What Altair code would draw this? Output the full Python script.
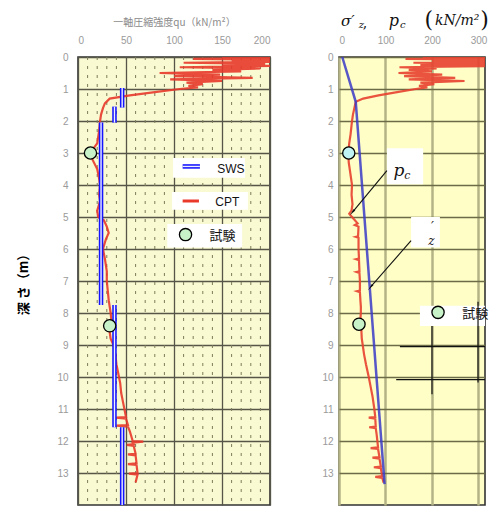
import altair as alt
import pandas as pd

# ---------------- data ----------------
# Left panel: CPT-derived unconfined compression strength qu (kN/m2) vs depth (m)
cpt_depth = [0.00, 0.03, 0.06, 0.09, 0.12, 0.15, 0.18, 0.21, 0.25, 0.28, 0.32, 0.36, 0.40,
             0.45, 0.50, 0.55, 0.60, 0.65, 0.70, 0.75, 0.80, 0.85, 0.90, 0.95, 1.00, 1.10,
             1.20, 1.30, 1.45, 1.60, 1.80, 2.00, 2.30, 2.70, 2.90, 3.00, 3.20, 3.50, 3.80,
             4.00, 4.30, 4.50, 4.80, 5.00, 5.10, 5.30, 5.50, 5.70, 6.00, 6.30, 6.70, 7.00,
             7.30, 7.60, 7.80, 8.00, 8.30, 8.60, 8.80, 9.00, 9.30, 9.60, 9.90, 10.20, 10.50,
             10.80, 11.10, 11.25, 11.27, 11.30, 11.50, 11.52, 11.55, 11.70, 12.00, 12.02,
             12.05, 12.10, 12.12, 12.15, 12.40, 12.42, 12.45, 12.70, 12.72, 12.75, 13.00,
             13.02, 13.05, 13.30]
cpt_qu = [150, 200, 120, 200, 160, 200, 110, 195, 150, 200, 106, 190, 140,
          170, 85, 148, 100, 182, 96, 150, 113, 130, 115, 125, 106, 80,
          54, 33, 28, 26, 24, 23, 22, 20, 15, 13, 15, 20, 22,
          23, 22, 23, 20, 21, 27, 30, 32, 29, 26, 28, 30, 30,
          31, 32, 33, 34, 35, 33, 34, 37, 39, 40, 42, 44, 45,
          47, 49, 50, 40, 50, 52, 40, 52, 54, 57, 68,
          57, 58, 51, 58, 60, 52, 60, 61, 52, 61, 62,
          53, 62, 60]

# SWS segments (double blue lines)
sws_top = [0.97, 1.55, 2.05, 7.75, 11.57]
sws_bottom = [1.58, 2.05, 7.75, 11.57, 14.0]
sws_qu = [46, 38, 24, 38, 46]

# laboratory tests (left)
test_depth_l = [3.0, 8.4]
test_qu = [13, 33]

# Right panel: preconsolidation pressure pc and effective overburden sigma'z
pc_depth = [0.00, 0.03, 0.06, 0.09, 0.12, 0.15, 0.18, 0.21, 0.25, 0.28, 0.32, 0.36, 0.40,
            0.45, 0.50, 0.55, 0.60, 0.65, 0.70, 0.75, 0.80, 0.85, 0.90, 0.95, 1.00, 1.10,
            1.20, 1.30, 1.40, 1.60, 1.80, 2.00, 2.40, 2.70, 3.00, 3.30, 3.60, 4.00, 4.30,
            4.60, 4.80, 4.90, 5.00, 5.20, 5.25, 5.30, 5.60, 5.62, 5.65, 6.00, 6.30, 6.32,
            6.35, 6.70, 6.72, 6.75, 7.00, 7.30, 7.32, 7.35, 7.60, 7.80, 8.00, 8.20, 8.50,
            8.80, 9.00, 9.30, 9.60, 10.00, 10.30, 10.60, 11.00, 11.25, 11.27, 11.30, 11.55,
            11.57, 11.60, 11.80, 12.20, 12.22, 12.25, 12.50, 12.52, 12.55, 12.80, 12.82,
            12.85, 13.10, 13.12, 13.15, 13.30]
pc_val = [180, 360, 143, 360, 200, 360, 160, 330, 175, 360, 130, 210, 150,
          200, 128, 222, 140, 250, 150, 270, 175, 205, 172, 190, 165, 125,
          85, 52, 36, 33, 30, 28, 25, 22, 20, 21, 24, 28, 27,
          29, 27, 22, 28, 40, 34, 42, 41, 36, 42, 42, 43, 37,
          43, 44, 38, 44, 45, 45, 39, 45, 46, 47, 47, 46, 48,
          49, 51, 54, 58, 64, 68, 72, 76, 78, 64, 78, 79,
          65, 79, 81, 84, 68, 84, 87, 72, 87, 90, 75,
          90, 93, 78, 93, 96]

sig_depth = [0.0, 1.4, 13.35]
sig_val = [7, 36, 98]

test_depth_r = [3.0, 8.35]
test_pc = [21, 43]

# ---------------- scales & axes ----------------
XMAX_R = 314
YS = alt.Scale(domain=[0, 14], reverse=True, nice=False, zero=False)
XL = alt.Scale(domain=[0, 200], nice=False)
XR = alt.Scale(domain=[0, XMAX_R], nice=False)
W_L, W_R, H = 192, 146, 448
LAB = "#9a9a9a"

AXL_X = alt.Axis(orient="top", values=[0, 50, 100, 150, 200], grid=True, gridColor="#555548",
                 gridWidth=1.3, ticks=False, tickSize=0, domain=False, labelColor=LAB,
                 labelFontSize=10, labelPadding=12, labelFont="Liberation Sans",
                 title="一軸圧縮強度qu（kN/m²）", titleColor="#8a8a8a", titleFontSize=10,
                 titleFontWeight="normal", titleFont="Noto Sans CJK JP", titlePadding=8)
AXL_Y = alt.Axis(values=list(range(0, 14)), grid=True, gridColor="#555548", gridWidth=1.3,
                 ticks=False, tickSize=0, domain=False, labelColor=LAB, labelFontSize=10,
                 labelPadding=10, labelFont="Liberation Sans", title="深 さ（m）",
                 titleFont="Noto Sans CJK JP", titleFontSize=13, titleFontWeight="bold",
                 titleColor="#000", titlePadding=26)
AXR_X = alt.Axis(orient="top", values=[0, 100, 200, 300], grid=True, gridColor="#b3b386",
                 gridWidth=2.5, ticks=False, tickSize=0, domain=False, labelColor=LAB,
                 labelFontSize=10, labelPadding=12, labelFont="Liberation Sans", title=None)
AXR_Y = alt.Axis(values=list(range(0, 14)), grid=True, gridColor="#6b6b48", gridWidth=1.5,
                 ticks=False, tickSize=0, domain=False, labelColor=LAB, labelFontSize=10,
                 labelPadding=6, labelFont="Liberation Sans", title=None)


def xl(field):
    return alt.X(field, type="quantitative", scale=XL, axis=AXL_X)


def yl(field):
    return alt.Y(field, type="quantitative", scale=YS, axis=AXL_Y)


def xr(field):
    return alt.X(field, type="quantitative", scale=XR, axis=AXR_X)


def yr(field):
    return alt.Y(field, type="quantitative", scale=YS, axis=AXR_Y)


# ---------------- left panel ----------------
cpt_df = pd.DataFrame({"depth": cpt_depth, "qu": cpt_qu, "i": range(len(cpt_depth))})
sws_df = pd.DataFrame({"top": sws_top, "bottom": sws_bottom, "qu": sws_qu})
tl_df = pd.DataFrame({"depth": test_depth_l, "qu": test_qu})

minor_l = pd.DataFrame({"v": [v for v in range(10, 200, 10) if v % 50 != 0], "y1": 0.0, "y2": 14.0})
minor_rules = alt.Chart(minor_l).mark_rule(color="#7c7c5c", strokeWidth=1, strokeDash=[3, 6]).encode(
    x=xl("v"), y=yl("y1"), y2="y2")

cpt_line = alt.Chart(cpt_df).mark_line(color="#e8392b", strokeWidth=2.2, opacity=0.9, clip=True).encode(
    x=xl("qu"), y=yl("depth"), order="i:Q")

sws_outer = alt.Chart(sws_df).mark_rule(color="#1414ff", strokeWidth=4.5).encode(
    x=xl("qu"), y=yl("top"), y2="bottom")
sws_inner = alt.Chart(sws_df).mark_rule(color="#eef0ff", strokeWidth=1.4).encode(
    x=xl("qu"), y=yl("top"), y2="bottom")

tl_pts = alt.Chart(tl_df).mark_point(shape="circle", filled=True, size=150, fill="#c8f2c8",
                                     stroke="#000", strokeWidth=1.3, opacity=1).encode(
    x=xl("qu"), y=yl("depth"))

# legend (left)
leg_l = pd.DataFrame({"x1": [99, 98, 93], "x2": [174, 177, 171],
                      "y1": [3.16, 4.22, 5.22], "y2": [3.77, 4.77, 5.95]})
leg_boxes = alt.Chart(leg_l).mark_rect(color="white").encode(
    x=xl("x1"), x2="x2", y=yl("y1"), y2="y2")
leg_sym = pd.DataFrame({"x1": [109], "x2": [127], "y": [3.42]})
leg_sws_o = alt.Chart(leg_sym).mark_rule(color="#1414ff", strokeWidth=4.5).encode(
    x=xl("x1"), x2="x2", y=yl("y"))
leg_sws_i = alt.Chart(leg_sym).mark_rule(color="#eef0ff", strokeWidth=1.4).encode(
    x=xl("x1"), x2="x2", y=yl("y"))
leg_cpt_df = pd.DataFrame({"x1": [109], "x2": [126], "y": [4.5]})
leg_cpt = alt.Chart(leg_cpt_df).mark_rule(color="#e8392b", strokeWidth=3).encode(
    x=xl("x1"), x2="x2", y=yl("y"))
leg_pt_df = pd.DataFrame({"x": [112], "y": [5.55]})
leg_pt = alt.Chart(leg_pt_df).mark_point(shape="circle", filled=True, size=150, fill="#c8f2c8",
                                         stroke="#000", strokeWidth=1.3, opacity=1).encode(
    x=xl("x"), y=yl("y"))
leg_lat_df = pd.DataFrame({"x": [145, 143], "y": [3.5, 4.53], "t": ["SWS", "CPT"]})
leg_lat = alt.Chart(leg_lat_df).mark_text(align="left", baseline="middle", fontSize=12,
                                          font="Liberation Sans", color="#111").encode(
    x=xl("x"), y=yl("y"), text="t:N")
leg_jp_df = pd.DataFrame({"x": [137], "y": [5.58], "t": ["試験"]})
leg_jp = alt.Chart(leg_jp_df).mark_text(align="left", baseline="middle", fontSize=13,
                                        font="Noto Sans CJK JP", color="#111").encode(
    x=xl("x"), y=yl("y"), text="t:N")

left = alt.layer(minor_rules, cpt_line, sws_outer, sws_inner, tl_pts, leg_boxes, leg_sws_o,
                 leg_sws_i, leg_cpt, leg_pt, leg_lat, leg_jp).properties(
    width=W_L, height=H,
    view=alt.ViewBackground(fill="#fafad2", stroke="#333333", strokeWidth=1.6))

# ---------------- right panel ----------------
pc_df = pd.DataFrame({"depth": pc_depth, "pc": pc_val, "i": range(len(pc_depth))})
sig_df = pd.DataFrame({"depth": sig_depth, "s": sig_val})
tr_df = pd.DataFrame({"depth": test_depth_r, "pc": test_pc, "c": ["#bff2f2", "#c8f2c8"]})

pc_line = alt.Chart(pc_df).mark_line(color="#e8402e", strokeWidth=2.2, opacity=0.9, clip=True).encode(
    x=xr("pc"), y=yr("depth"), order="i:Q")

sig_line = alt.Chart(sig_df).mark_line(color="#3a3ac8", strokeWidth=2.5, opacity=0.85).encode(
    x=xr("s"), y=yr("depth"))

tr_pts = alt.Chart(tr_df).mark_point(shape="circle", filled=True, size=150, stroke="#000",
                                     strokeWidth=1.3, opacity=1).encode(
    x=xr("pc"), y=yr("depth"), fill=alt.Fill("c:N", scale=None))

# annotation boxes
ann_box = pd.DataFrame({"x1": [103, 155, 174], "x2": [181, 217, XMAX_R],
                        "y1": [2.85, 5.0, 7.77], "y2": [3.98, 5.95, 8.41]})
ann_boxes = alt.Chart(ann_box).mark_rect(color="white").encode(
    x=xr("x1"), x2="x2", y=yr("y1"), y2="y2")

# black leftover frame lines
blk_h = pd.DataFrame({"x1": [131, 123], "x2": [XMAX_R, XMAX_R], "y": [9.05, 10.08]})
blk_v = pd.DataFrame({"x": [200, 299], "y1": [8.41, 7.65], "y2": [10.54, 10.17]})
blk_h_r = alt.Chart(blk_h).mark_rule(color="#111", strokeWidth=1.2).encode(
    x=xr("x1"), x2="x2", y=yr("y"))
blk_v_r = alt.Chart(blk_v).mark_rule(color="#111", strokeWidth=1.2).encode(
    x=xr("x"), y=yr("y1"), y2="y2")

# arrows
arr = pd.DataFrame({"x1": [103, 155], "y1": [3.55, 5.74], "x2": [30, 69], "y2": [4.83, 7.17]})
arr_lines = alt.Chart(arr).mark_rule(color="#111", strokeWidth=1.1).encode(
    x=xr("x1"), x2="x2", y=yr("y1"), y2="y2")
arr_heads = alt.Chart(arr).mark_point(shape="wedge", filled=True, size=70, color="#111",
                                      opacity=1, angle=220).encode(
    x=xr("x2"), y=yr("y2"))

# annotation texts (italic serif)
ann_txt = pd.DataFrame({"x": [129, 147, 201, 199], "y": [3.55, 3.72, 5.3, 5.75],
                        "t": ["p", "c", "′", "z"], "s": [17, 11, 13, 12]})
ann_text = alt.Chart(ann_txt).mark_text(align="center", baseline="middle", font="DejaVu Serif",
                                        fontStyle="italic", color="#111").encode(
    x=xr("x"), y=yr("y"), text="t:N", size=alt.Size("s:Q", scale=None))

leg_r_pt = pd.DataFrame({"x": [213], "y": [7.98]})
leg_r_point = alt.Chart(leg_r_pt).mark_point(shape="circle", filled=True, size=150, fill="#c8f2c8",
                                             stroke="#000", strokeWidth=1.3, opacity=1).encode(
    x=xr("x"), y=yr("y"))
leg_r_t = pd.DataFrame({"x": [265], "y": [8.02], "t": ["試験"]})
leg_r_text = alt.Chart(leg_r_t).mark_text(align="left", baseline="middle", fontSize=13,
                                          font="Noto Sans CJK JP", color="#111").encode(
    x=xr("x"), y=yr("y"), text="t:N")

# panel title (above the plot) with subscripts
ttl = pd.DataFrame({"x": [19, 48, 56, 118, 137, 193, 254, 313],
                    "y": [-1.14, -1.0, -1.04, -1.14, -1.0, -1.16, -1.14, -1.16],
                    "t": ["σ′", "z", ",", "p", "c", "(", "kN/m²", ")"],
                    "s": [15, 10, 14, 16, 10, 22, 14, 22],
                    "st": ["italic", "italic", "normal", "italic", "italic", "normal", "italic", "normal"]})
ttl_it = alt.Chart(ttl[ttl.st == "italic"]).mark_text(
    align="center", baseline="middle", font="DejaVu Serif", fontStyle="italic", color="#111").encode(
    x=xr("x"), y=yr("y"), text="t:N", size=alt.Size("s:Q", scale=None))
ttl_up = alt.Chart(ttl[ttl.st == "normal"]).mark_text(
    align="center", baseline="middle", font="DejaVu Serif", fontWeight="lighter", color="#111").encode(
    x=xr("x"), y=yr("y"), text="t:N", size=alt.Size("s:Q", scale=None))

right = alt.layer(pc_line, sig_line, tr_pts, ann_boxes, blk_h_r, blk_v_r, arr_lines, arr_heads,
                  ann_text, leg_r_point, leg_r_text, ttl_it, ttl_up).properties(
    width=W_R, height=H,
    view=alt.ViewBackground(fill="#fefec6", stroke="#333333", strokeWidth=1.6))

chart = alt.hconcat(left, right, spacing=50).properties(
    padding={"left": 9, "top": 0, "right": 0, "bottom": 0},
    background="white").configure_view(stroke="#333333")

chart.save("out.html", embed_options={"renderer": "svg", "actions": False})
